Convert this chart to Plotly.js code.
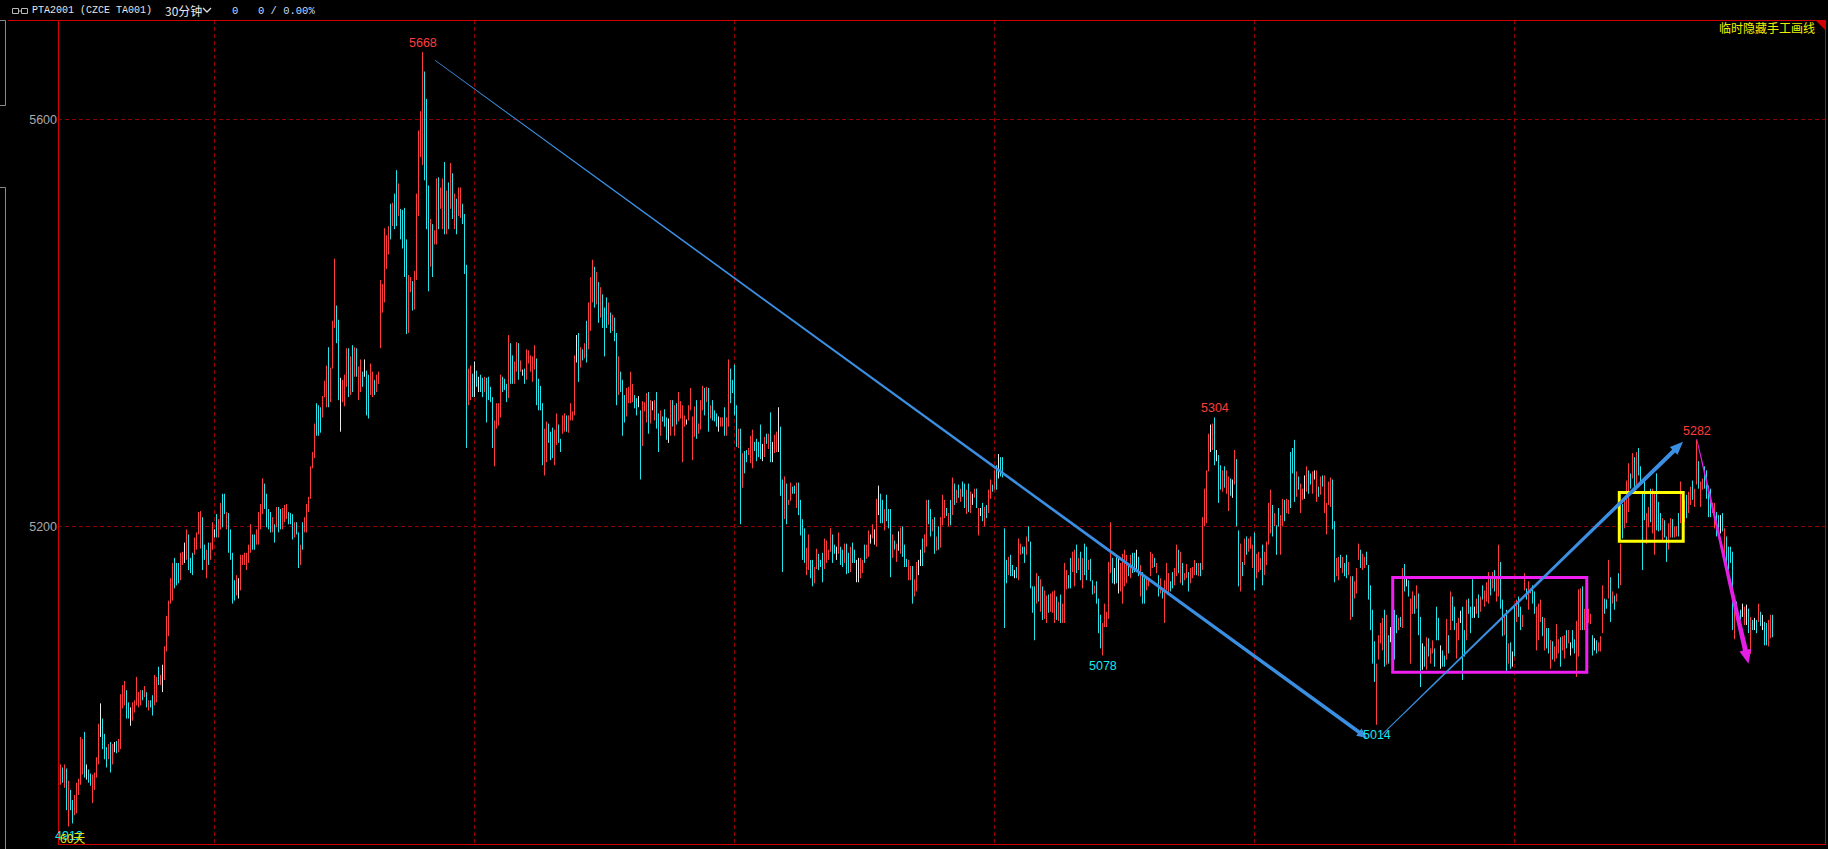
<!DOCTYPE html>
<html><head><meta charset="utf-8">
<script src="https://cdn.plot.ly/plotly-3.0.1.min.js"></script>
<style>html,body{margin:0;padding:0;background:#000;overflow:hidden}#chart{width:1828px;height:849px}</style>
</head><body><div id="chart"></div>
<script>
// ===== data: PTA2001 30-minute bars, 60 days =====
const high=[
4966,4963,4966,4962,4950,4941,4931,4936,4948,4952,
4993,4991,4998,4966,4961,4957,4956,4958,4973,5006,
5026,5011,4996,4983,4986,4988,4986,4988,4989,4991,
5035,5044,5048,5039,5027,5022,5027,5029,5052,5037,
5039,5039,5043,5037,5029,5029,5034,5054,5052,5062,
5054,5064,5082,5112,5127,5149,5164,5169,5164,5164,
5174,5175,5184,5197,5192,5169,5174,5189,5194,5214,
5215,5209,5182,5177,5184,5184,5204,5197,5212,5207,
5223,5232,5232,5214,5213,5197,5174,5147,5152,5149,
5172,5172,5174,5174,5182,5202,5192,5192,5197,5214,
5222,5247,5242,5232,5217,5214,5209,5202,5219,5219,
5217,5218,5221,5222,5214,5213,5212,5204,5204,5194,
5182,5204,5209,5222,5229,5259,5273,5301,5321,5319,
5317,5328,5343,5358,5376,5356,5402,5463,5417,5403,
5346,5344,5349,5375,5375,5367,5378,5376,5375,5357,
5364,5352,5364,5353,5349,5360,5352,5344,5349,5352,
5442,5438,5493,5486,5495,5517,5518,5527,5550,5537,
5512,5511,5513,5482,5447,5445,5441,5451,5527,5589,
5608,5666,5647,5620,5535,5502,5497,5491,5542,5543,
5533,5542,5558,5530,5538,5557,5547,5527,5522,5533,
5533,5517,5507,5457,5355,5358,5350,5362,5353,5347,
5349,5346,5347,5346,5347,5337,5327,5304,5321,5321,
5349,5347,5345,5340,5388,5380,5368,5362,5381,5380,
5363,5354,5355,5374,5373,5368,5367,5378,5365,5345,
5338,5321,5296,5303,5301,5293,5297,5295,5311,5300,
5286,5309,5311,5309,5309,5321,5313,5368,5388,5390,
5376,5374,5380,5402,5420,5445,5462,5455,5450,5440,
5435,5428,5415,5425,5420,5410,5408,5405,5390,5367,
5352,5344,5329,5336,5337,5352,5340,5329,5326,5328,
5314,5323,5322,5331,5332,5324,5323,5324,5332,5311,
5314,5308,5315,5307,5306,5324,5324,5319,5321,5332,
5323,5319,5309,5305,5319,5336,5308,5318,5324,5301,
5324,5338,5336,5337,5336,5319,5324,5314,5311,5308,
5307,5307,5317,5307,5364,5355,5344,5359,5319,5296,
5296,5272,5274,5275,5277,5289,5295,5283,5286,5283,
5300,5281,5288,5291,5291,5312,5283,5290,5293,5317,
5298,5246,5249,5242,5226,5243,5239,5240,5243,5243,
5226,5207,5198,5179,5192,5167,5167,5160,5178,5173,
5167,5174,5188,5186,5177,5198,5192,5182,5180,5194,
5180,5177,5183,5183,5174,5180,5184,5177,5167,5169,
5169,5167,5182,5182,5196,5192,5202,5197,5227,5240,
5232,5226,5217,5231,5217,5217,5192,5186,5183,5195,
5199,5200,5182,5168,5167,5161,5161,5148,5165,5167,
5177,5188,5192,5226,5226,5217,5207,5209,5190,5200,
5209,5231,5226,5218,5213,5226,5248,5242,5236,5241,
5237,5244,5242,5236,5242,5234,5232,5237,5237,5218,
5218,5223,5219,5221,5236,5246,5241,5255,5260,5271,
5268,5268,5198,5167,5170,5172,5162,5157,5160,5188,
5183,5180,5180,5190,5200,5185,5141,5141,5154,5151,
5148,5141,5137,5132,5133,5134,5136,5137,5131,5126,
5133,5124,5164,5157,5152,5169,5175,5177,5182,5169,
5175,5169,5183,5180,5167,5168,5147,5142,5146,5129,
5113,5105,5124,5116,5165,5204,5169,5159,5172,5170,
5164,5173,5177,5172,5164,5172,5174,5174,5177,5170,
5162,5155,5149,5151,5149,5175,5173,5169,5164,5152,
5149,5139,5147,5164,5154,5146,5155,5159,5182,5177,
5175,5164,5154,5163,5155,5159,5160,5167,5164,5164,
5164,5209,5237,5255,5291,5300,5301,5307,5275,5270,
5260,5255,5259,5255,5249,5247,5246,5275,5266,5196,
5183,5165,5188,5190,5188,5190,5182,5194,5173,5175,
5169,5182,5175,5185,5223,5236,5221,5213,5201,5218,
5211,5227,5226,5227,5226,5273,5277,5285,5254,5249,
5242,5237,5250,5259,5255,5252,5254,5255,5255,5239,
5249,5250,5250,5223,5244,5248,5246,5205,5169,5170,
5172,5170,5164,5172,5165,5151,5151,5146,5159,5183,
5177,5173,5170,5175,5162,5142,5118,5087,5065,5093,
5105,5110,5118,5113,5093,5101,5114,5118,5113,5110,
5111,5159,5163,5149,5147,5129,5136,5132,5142,5134,
5111,5085,5082,5091,5090,5080,5088,5080,5121,5110,
5083,5078,5073,5109,5093,5136,5131,5121,5105,5110,
5117,5121,5098,5128,5129,5121,5148,5121,5129,5133,
5131,5142,5137,5145,5155,5150,5155,5157,5149,5182,
5165,5128,5114,5118,5085,5086,5077,5121,5128,5131,
5121,5113,5154,5139,5146,5139,5142,5136,5121,5124,
5128,5111,5110,5100,5100,5088,5087,5082,5104,5089,
5091,5092,5093,5098,5098,5086,5098,5089,5107,5138,
5139,5141,5119,5121,5119,5114,5093,5090,5088,5086,
5092,5142,5129,5128,5167,5150,5136,5132,5134,5154,
5183,5222,5226,5245,5262,5252,5272,5268,5273,5277,
5259,5232,5247,5213,5219,5237,5237,5232,5252,5224,
5213,5208,5206,5190,5203,5208,5207,5200,5200,5213,
5244,5231,5226,5231,5234,5239,5245,5237,5285,5264,
5244,5247,5259,5255,5240,5237,5223,5223,5214,5211,
5211,5213,5198,5190,5180,5180,5175,5128,5126,5114,
5118,5124,5121,5123,5119,5111,5108,5110,5108,5124,
5116,5113,5106,5105,5108,5113,5113];
const low=[
4946,4948,4943,4921,4905,4921,4908,4916,4918,4936,
4946,4956,4953,4951,4948,4945,4928,4941,4953,4966,
4993,4981,4971,4963,4971,4958,4966,4978,4977,4978,
4981,5021,5024,5011,5011,5004,5009,5017,5024,5022,
5024,5029,5032,5022,5019,5022,5014,5024,5027,5044,
5044,5037,5049,5077,5092,5124,5127,5139,5142,5144,
5147,5162,5164,5167,5157,5154,5152,5172,5177,5192,
5178,5157,5167,5149,5162,5167,5177,5189,5189,5189,
5197,5199,5212,5197,5174,5167,5124,5127,5132,5129,
5137,5162,5162,5157,5164,5174,5177,5177,5182,5182,
5197,5212,5217,5199,5197,5194,5194,5184,5199,5194,
5197,5197,5204,5207,5202,5202,5187,5189,5192,5159,
5162,5177,5194,5194,5214,5227,5257,5267,5289,5289,
5292,5307,5327,5317,5317,5322,5355,5395,5380,5324,
5293,5322,5318,5337,5327,5329,5332,5347,5347,5324,
5332,5337,5347,5309,5306,5329,5327,5329,5332,5340,
5375,5410,5420,5453,5467,5482,5495,5492,5495,5505,
5482,5473,5445,5389,5390,5430,5412,5413,5442,5505,
5563,5555,5540,5492,5431,5455,5445,5477,5477,5492,
5512,5492,5487,5487,5492,5512,5502,5492,5487,5505,
5503,5497,5448,5277,5319,5324,5327,5327,5337,5332,
5332,5327,5332,5302,5324,5322,5277,5259,5296,5299,
5307,5332,5334,5322,5326,5340,5340,5340,5352,5344,
5352,5348,5340,5344,5360,5352,5342,5354,5319,5314,
5314,5260,5250,5263,5282,5265,5267,5260,5280,5282,
5273,5291,5293,5293,5292,5304,5304,5309,5361,5342,
5356,5363,5365,5361,5374,5392,5420,5415,5418,5400,
5405,5395,5367,5395,5398,5390,5392,5382,5319,5329,
5332,5289,5302,5308,5321,5321,5322,5316,5309,5317,
5246,5279,5313,5302,5291,5301,5314,5304,5296,5273,
5289,5303,5298,5285,5282,5289,5298,5289,5300,5303,
5306,5263,5298,5300,5304,5314,5265,5288,5286,5291,
5295,5314,5309,5322,5293,5306,5304,5303,5298,5293,
5298,5298,5289,5289,5298,5321,5331,5309,5278,5277,
5202,5238,5252,5263,5270,5262,5257,5274,5264,5268,
5266,5264,5268,5281,5276,5263,5263,5272,5273,5273,
5230,5155,5207,5202,5221,5225,5232,5232,5218,5211,
5191,5167,5164,5152,5157,5149,5141,5144,5158,5157,
5160,5145,5158,5164,5167,5175,5164,5173,5167,5173,
5162,5160,5164,5153,5154,5155,5164,5164,5145,5145,
5149,5154,5164,5168,5170,5183,5188,5182,5180,5211,
5203,5203,5196,5205,5198,5150,5169,5177,5165,5176,
5173,5170,5160,5160,5147,5147,5124,5131,5136,5152,
5161,5161,5174,5180,5202,5190,5195,5173,5176,5177,
5179,5201,5208,5210,5200,5201,5211,5221,5223,5228,
5224,5229,5218,5212,5214,5213,5221,5228,5218,5191,
5210,5205,5200,5208,5213,5227,5234,5236,5236,5247,
5249,5248,5100,5144,5152,5151,5151,5149,5149,5147,
5172,5173,5164,5172,5185,5139,5115,5088,5124,5126,
5116,5108,5109,5105,5115,5116,5115,5105,5108,5107,
5105,5105,5105,5138,5139,5139,5155,5141,5154,5157,
5147,5139,5152,5147,5157,5146,5133,5134,5124,5095,
5080,5073,5101,5101,5109,5154,5144,5143,5144,5134,
5136,5124,5141,5144,5151,5149,5154,5155,5155,5151,
5131,5124,5124,5137,5141,5151,5159,5160,5154,5131,
5134,5129,5105,5137,5133,5136,5139,5142,5151,5154,
5144,5142,5147,5149,5136,5144,5149,5152,5152,5151,
5151,5157,5200,5203,5254,5273,5275,5260,5264,5223,
5236,5234,5238,5232,5215,5230,5228,5241,5200,5141,
5136,5151,5162,5172,5175,5178,5159,5137,5149,5155,
5157,5142,5152,5162,5182,5193,5190,5200,5172,5200,
5172,5200,5205,5213,5212,5218,5252,5224,5229,5236,
5213,5226,5227,5234,5232,5241,5232,5246,5224,5229,
5231,5239,5213,5192,5221,5219,5197,5145,5151,5147,
5159,5154,5151,5149,5152,5108,5111,5129,5134,5167,
5159,5157,5159,5162,5128,5098,5065,5047,5005,5069,
5085,5078,5062,5064,5065,5086,5069,5069,5095,5098,
5101,5100,5136,5141,5131,5065,5114,5114,5119,5093,
5042,5059,5062,5059,5072,5065,5075,5062,5088,5088,
5060,5062,5062,5069,5075,5098,5107,5098,5070,5088,
5105,5049,5072,5088,5114,5095,5110,5110,5114,5110,
5116,5128,5121,5126,5124,5132,5139,5136,5126,5131,
5119,5092,5093,5057,5065,5060,5062,5072,5106,5111,
5098,5101,5137,5128,5118,5134,5124,5114,5078,5088,
5106,5092,5078,5080,5075,5060,5069,5067,5070,5075,
5062,5078,5070,5080,5085,5073,5080,5075,5052,5072,
5098,5098,5098,5101,5105,5104,5073,5078,5075,5077,
5077,5095,5114,5119,5129,5106,5124,5118,5126,5139,
5142,5188,5198,5203,5214,5237,5247,5239,5241,5250,
5244,5157,5206,5183,5199,5204,5193,5172,5196,5195,
5196,5185,5189,5165,5177,5189,5189,5189,5190,5190,
5203,5211,5204,5208,5213,5221,5226,5219,5241,5237,
5219,5236,5237,5227,5209,5209,5213,5198,5190,5190,
5193,5195,5170,5155,5157,5164,5098,5089,5114,5105,
5108,5111,5103,5103,5095,5075,5098,5098,5095,5106,
5102,5098,5083,5083,5082,5090,5091];
const open=[
4946,4963,4943,4962,4905,4941,4931,4916,4918,4936,
4946,4956,4998,4958,4961,4957,4928,4941,4953,4966,
5010,5011,4996,4983,4971,4988,4966,4983,4989,4978,
4981,5021,5024,5039,5027,5013,5009,5017,5024,5022,
5024,5039,5032,5037,5019,5029,5034,5024,5027,5062,
5044,5050,5049,5077,5092,5124,5127,5169,5164,5164,
5147,5162,5174,5167,5192,5169,5174,5172,5177,5192,
5178,5209,5182,5149,5184,5167,5177,5193,5212,5189,
5197,5232,5232,5197,5213,5197,5174,5147,5132,5139,
5137,5162,5162,5157,5164,5174,5192,5192,5182,5182,
5197,5212,5242,5232,5217,5214,5194,5202,5199,5219,
5217,5197,5204,5207,5214,5213,5212,5189,5204,5194,
5162,5204,5194,5194,5214,5227,5257,5267,5321,5319,
5317,5307,5327,5317,5376,5322,5355,5395,5417,5403,
5320,5322,5318,5337,5375,5329,5378,5347,5375,5324,
5332,5352,5355,5353,5349,5329,5327,5344,5332,5340,
5375,5410,5420,5453,5467,5517,5495,5527,5550,5505,
5512,5511,5513,5482,5390,5430,5441,5413,5442,5505,
5563,5555,5647,5620,5535,5455,5497,5477,5477,5543,
5512,5492,5558,5487,5538,5512,5547,5492,5522,5505,
5503,5517,5507,5457,5319,5324,5350,5345,5353,5340,
5349,5346,5332,5346,5347,5337,5327,5259,5296,5299,
5307,5347,5345,5340,5326,5380,5368,5340,5352,5380,
5352,5351,5355,5344,5360,5352,5342,5354,5365,5345,
5338,5321,5250,5263,5301,5293,5297,5260,5280,5300,
5286,5291,5293,5309,5292,5304,5304,5309,5375,5390,
5356,5374,5365,5402,5374,5392,5420,5455,5418,5440,
5405,5428,5415,5425,5398,5410,5392,5405,5390,5329,
5352,5344,5329,5308,5321,5321,5322,5329,5326,5322,
5314,5279,5313,5302,5332,5301,5318,5304,5332,5311,
5289,5308,5315,5307,5294,5289,5324,5289,5321,5303,
5306,5263,5298,5302,5304,5314,5265,5288,5324,5291,
5295,5314,5336,5322,5336,5306,5324,5314,5311,5300,
5298,5298,5317,5289,5298,5355,5344,5359,5319,5277,
5296,5238,5274,5275,5270,5262,5257,5283,5286,5283,
5300,5272,5268,5291,5276,5312,5273,5272,5273,5290,
5298,5246,5207,5242,5221,5225,5239,5240,5218,5243,
5226,5207,5198,5152,5157,5167,5167,5144,5158,5173,
5167,5174,5158,5164,5167,5175,5192,5182,5173,5173,
5180,5177,5164,5183,5174,5155,5184,5177,5156,5157,
5149,5154,5182,5168,5170,5187,5188,5190,5180,5225,
5232,5226,5196,5231,5217,5217,5169,5186,5165,5185,
5173,5200,5182,5168,5147,5147,5161,5131,5136,5160,
5169,5188,5174,5180,5226,5217,5195,5209,5176,5200,
5179,5201,5208,5218,5200,5226,5211,5242,5223,5241,
5224,5244,5242,5212,5242,5213,5226,5228,5237,5191,
5214,5223,5200,5221,5213,5227,5241,5236,5260,5259,
5268,5268,5198,5167,5152,5172,5162,5153,5160,5147,
5172,5180,5180,5172,5200,5185,5141,5141,5124,5151,
5116,5141,5109,5105,5133,5116,5115,5105,5131,5107,
5133,5105,5105,5138,5152,5169,5155,5141,5182,5157,
5175,5139,5183,5180,5157,5168,5147,5134,5146,5129,
5113,5073,5101,5101,5109,5154,5169,5151,5172,5152,
5136,5124,5141,5144,5164,5149,5174,5174,5166,5170,
5131,5155,5149,5137,5141,5151,5159,5169,5154,5152,
5134,5139,5105,5137,5133,5146,5155,5142,5151,5177,
5144,5164,5147,5149,5155,5144,5149,5152,5164,5151,
5164,5157,5200,5203,5254,5286,5275,5307,5270,5270,
5260,5234,5259,5232,5215,5247,5237,5241,5266,5196,
5136,5165,5162,5190,5175,5178,5159,5194,5149,5155,
5157,5182,5152,5162,5182,5193,5221,5200,5201,5218,
5172,5200,5226,5213,5212,5273,5277,5285,5229,5249,
5213,5226,5238,5234,5255,5252,5232,5250,5224,5239,
5231,5250,5213,5192,5221,5219,5246,5205,5151,5147,
5172,5154,5164,5172,5152,5108,5151,5129,5134,5167,
5177,5157,5159,5175,5162,5142,5118,5087,5005,5069,
5085,5078,5118,5064,5093,5094,5069,5118,5113,5098,
5111,5100,5163,5145,5147,5065,5114,5132,5119,5134,
5111,5072,5082,5059,5090,5065,5075,5080,5121,5110,
5072,5078,5073,5069,5093,5098,5131,5121,5070,5088,
5111,5121,5098,5088,5129,5121,5148,5116,5114,5133,
5116,5142,5121,5126,5124,5150,5139,5157,5126,5131,
5165,5128,5093,5118,5065,5086,5070,5121,5106,5131,
5121,5101,5137,5139,5118,5134,5142,5136,5078,5088,
5106,5111,5078,5100,5100,5060,5087,5067,5070,5075,
5091,5078,5070,5098,5085,5080,5098,5089,5052,5072,
5098,5141,5098,5101,5105,5104,5093,5084,5088,5077,
5077,5095,5129,5128,5129,5150,5124,5132,5126,5154,
5142,5222,5198,5203,5214,5252,5247,5268,5241,5277,
5259,5232,5247,5183,5199,5237,5193,5172,5252,5224,
5213,5185,5206,5190,5177,5189,5207,5189,5190,5213,
5203,5211,5204,5231,5213,5221,5245,5219,5241,5264,
5219,5236,5259,5255,5240,5237,5213,5198,5214,5211,
5202,5213,5170,5190,5180,5180,5175,5089,5126,5110,
5118,5118,5103,5113,5119,5075,5108,5104,5108,5106,
5116,5106,5106,5105,5082,5090,5113];
const close=[
4966,4948,4966,4921,4950,4921,4908,4936,4948,4952,
4993,4991,4953,4958,4948,4945,4956,4958,4973,5006,
5010,4981,4971,4963,4986,4958,4986,4983,4977,4991,
5035,5044,5048,5011,5011,5013,5027,5029,5052,5037,
5039,5029,5043,5022,5029,5022,5014,5054,5052,5044,
5054,5050,5082,5112,5127,5149,5164,5139,5142,5144,
5174,5175,5174,5197,5157,5154,5152,5189,5194,5214,
5215,5157,5167,5177,5162,5184,5204,5193,5189,5207,
5223,5199,5212,5214,5174,5167,5124,5127,5152,5139,
5172,5172,5174,5174,5182,5202,5177,5177,5197,5214,
5222,5247,5217,5199,5197,5194,5209,5184,5219,5194,
5197,5218,5221,5222,5202,5202,5187,5204,5192,5159,
5182,5177,5209,5222,5229,5259,5273,5301,5289,5289,
5292,5328,5343,5358,5317,5356,5402,5463,5380,5324,
5320,5344,5349,5375,5327,5367,5332,5376,5347,5357,
5364,5337,5355,5309,5306,5360,5352,5329,5349,5352,
5442,5438,5493,5486,5495,5482,5518,5492,5495,5537,
5482,5473,5445,5389,5447,5445,5412,5451,5527,5589,
5608,5666,5540,5492,5431,5502,5445,5491,5542,5492,
5533,5542,5487,5530,5492,5557,5502,5527,5487,5533,
5533,5497,5448,5277,5355,5358,5327,5345,5337,5340,
5332,5327,5347,5302,5324,5322,5277,5304,5321,5321,
5349,5332,5334,5322,5388,5340,5340,5362,5381,5344,
5363,5351,5340,5374,5373,5368,5367,5378,5319,5314,
5314,5260,5296,5303,5282,5265,5267,5295,5311,5282,
5273,5309,5311,5293,5309,5321,5313,5368,5375,5342,
5376,5363,5380,5361,5420,5445,5462,5415,5450,5400,
5435,5395,5367,5395,5420,5390,5408,5382,5319,5367,
5332,5289,5302,5336,5337,5352,5340,5316,5309,5322,
5246,5323,5322,5331,5291,5324,5318,5324,5296,5273,
5314,5303,5298,5285,5294,5324,5298,5319,5300,5332,
5323,5319,5309,5302,5319,5336,5308,5318,5286,5301,
5324,5338,5309,5337,5293,5319,5304,5303,5298,5300,
5307,5307,5289,5307,5364,5321,5331,5309,5278,5296,
5202,5272,5252,5263,5277,5289,5295,5274,5264,5268,
5266,5272,5288,5281,5291,5263,5273,5290,5293,5290,
5230,5155,5249,5202,5226,5243,5232,5232,5243,5211,
5191,5167,5164,5179,5192,5149,5141,5160,5178,5157,
5160,5145,5188,5186,5177,5198,5164,5173,5173,5194,
5162,5160,5183,5153,5154,5180,5164,5164,5156,5157,
5169,5167,5164,5182,5196,5187,5202,5190,5227,5225,
5203,5203,5217,5205,5198,5150,5192,5177,5183,5185,
5199,5170,5160,5160,5167,5161,5124,5148,5165,5160,
5169,5161,5192,5226,5202,5190,5207,5173,5190,5177,
5209,5231,5226,5210,5213,5201,5248,5221,5236,5228,
5237,5229,5218,5236,5214,5234,5226,5237,5218,5218,
5214,5205,5219,5208,5236,5246,5234,5255,5236,5259,
5249,5248,5100,5144,5170,5151,5151,5153,5149,5188,
5183,5173,5164,5190,5185,5139,5115,5088,5154,5126,
5148,5108,5137,5132,5115,5134,5136,5137,5108,5126,
5105,5124,5164,5157,5139,5139,5175,5177,5154,5169,
5147,5169,5152,5147,5167,5146,5133,5142,5124,5095,
5080,5105,5124,5116,5165,5204,5144,5151,5144,5152,
5164,5173,5177,5172,5151,5172,5154,5155,5166,5151,
5162,5124,5124,5151,5149,5175,5173,5160,5164,5131,
5149,5129,5147,5164,5154,5136,5139,5159,5182,5154,
5175,5142,5154,5163,5136,5159,5160,5167,5152,5164,
5151,5209,5237,5255,5291,5286,5301,5260,5270,5223,
5236,5255,5238,5255,5249,5230,5237,5275,5200,5141,
5183,5151,5188,5172,5188,5190,5182,5137,5173,5175,
5169,5142,5175,5185,5223,5236,5190,5213,5172,5200,
5211,5227,5205,5227,5226,5218,5252,5224,5254,5236,
5242,5237,5238,5259,5232,5241,5254,5250,5255,5229,
5249,5239,5250,5223,5244,5248,5197,5145,5169,5170,
5159,5170,5151,5149,5165,5151,5111,5146,5159,5183,
5159,5173,5170,5162,5128,5098,5065,5047,5065,5093,
5105,5110,5062,5113,5065,5094,5114,5069,5095,5110,
5101,5159,5136,5145,5131,5129,5136,5114,5142,5093,
5042,5072,5062,5091,5072,5080,5088,5062,5088,5088,
5072,5062,5062,5109,5075,5136,5107,5098,5105,5110,
5111,5049,5072,5128,5114,5095,5110,5116,5129,5110,
5131,5128,5137,5145,5155,5132,5155,5136,5149,5182,
5119,5092,5114,5057,5085,5060,5070,5072,5128,5111,
5098,5113,5154,5128,5146,5139,5124,5114,5121,5124,
5128,5092,5110,5080,5075,5088,5069,5082,5104,5089,
5062,5092,5093,5080,5098,5080,5080,5075,5107,5138,
5139,5098,5119,5121,5119,5114,5073,5084,5075,5086,
5092,5142,5114,5119,5167,5106,5136,5118,5134,5139,
5183,5188,5226,5245,5262,5237,5272,5239,5273,5250,
5244,5157,5206,5213,5219,5204,5237,5232,5196,5195,
5196,5208,5189,5165,5203,5208,5189,5200,5200,5190,
5244,5231,5226,5208,5234,5239,5226,5237,5285,5237,
5244,5247,5237,5227,5209,5209,5223,5223,5190,5190,
5202,5195,5198,5155,5157,5164,5098,5128,5114,5110,
5108,5118,5121,5113,5095,5111,5098,5104,5095,5124,
5102,5106,5083,5083,5108,5113,5091];

// y ticks and day-separator gridlines (bar index)
const yTickVals=[5200,5600];
const yTickText=['5200','5600'];
const gridBars=[77,207,337,467,597,727];

// marked extremes (bar index, printed label)
const highMarkBars=[181,577,818];
const highMarkText=['5668','5304','5282'];
const lowMarkBars=[4,521,658];
const lowMarkText=['4912','5078','5014'];

// hand-drawn objects (bar index, price)
const arrows=[
 {from:[187.25,5658],to:[653.25,4992],w0:0.8,w1:3.6,headLen:10,headW:9,color:'#3b8fe2'},
 {from:[660.6,4995],to:[811.25,5283],w0:0.8,w1:4.2,headLen:13,headW:11,color:'#3b8fe2'},
 {from:[818.1,5286],to:[844,5065],w0:0.8,w1:5,headLen:14,headW:12,color:'#e41ee4'}
];
const boxes=[
 {x0:666.1,x1:763.15,y0:5056.6,y1:5149.7,color:'#f01ef0'},
 {x0:779.4,x1:811.35,y0:5185.3,y1:5233.2,color:'#ffff00'}
];

// ===== geometry of the plot frame =====
const W=1828,H=849,ML=58,MR=3,MT=20,MB=4;
const PW=W-ML-MR, PH=H-MT-MB;
const X0=-1.25, X1=882.25, Y0=4886.8, Y1=5697.6;
const pxX=x=>ML+(x-X0)/(X1-X0)*PW, pxY=y=>MT+(Y1-y)/(Y1-Y0)*PH;
const dX=p=>X0+(p-ML)/PW*(X1-X0), dY=p=>Y1-(p-MT)/PH*(Y1-Y0);
const paperX=p=>(p-ML)/PW, paperY=p=>(H-MB-p)/PH;

// ===== bar traces =====
const groups={up:{x:[],y:[]},dn:{x:[],y:[]},fl:{x:[],y:[]}};
for(let i=0;i<high.length;i++){
  const g=close[i]>open[i]?groups.up:(close[i]<open[i]?groups.dn:groups.fl);
  g.x.push(i,i,null); g.y.push(low[i],high[i],null);
}
const colors={up:'#ff3b3b',dn:'#22e4ec',fl:'#e8e8e8'};
const traces=Object.keys(groups).map(k=>({type:'scatter',mode:'lines',x:groups[k].x,y:groups[k].y,
  line:{color:colors[k],width:1},hoverinfo:'skip',connectgaps:false}));

// ===== shapes =====
function arrowPath(a){
  const x0=pxX(a.from[0]),y0=pxY(a.from[1]),x1=pxX(a.to[0]),y1=pxY(a.to[1]);
  const dx=x1-x0,dy=y1-y0,len=Math.hypot(dx,dy),ux=dx/len,uy=dy/len,nx=-uy,ny=ux;
  const bx=x1-ux*a.headLen,by=y1-uy*a.headLen;
  const pts=[[x0+nx*a.w0/2,y0+ny*a.w0/2],[bx+nx*a.w1/2,by+ny*a.w1/2],[bx+nx*a.headW/2,by+ny*a.headW/2],[x1,y1],
    [bx-nx*a.headW/2,by-ny*a.headW/2],[bx-nx*a.w1/2,by-ny*a.w1/2],[x0-nx*a.w0/2,y0-ny*a.w0/2]];
  return 'M'+pts.map(p=>dX(p[0]).toFixed(4)+','+dY(p[1]).toFixed(3)).join(' L')+' Z';
}
const RED='#d20000';
const pl=(x0,y0,x1,y1,color,w)=>({type:'line',xref:'paper',yref:'paper',x0:paperX(x0),y0:paperY(y0),x1:paperX(x1),y1:paperY(y1),line:{color:color,width:w}});
const pathPx=(pts,close)=>'M'+pts.map(p=>paperX(p[0]).toFixed(5)+','+paperY(p[1]).toFixed(5)).join(' L')+(close?' Z':'');
const shapes=[
  pl(8,20.5,1825.5,20.5,RED,1),
  pl(58.5,20,58.5,845,RED,1),
  pl(58,844.5,1825.5,844.5,RED,1),
  pl(1825.5,20,1825.5,845,RED,1),
  {type:'path',xref:'paper',yref:'paper',path:pathPx([[1816,20.5],[1825.5,20.5],[1825.5,30]],true),fillcolor:RED,line:{color:RED,width:0.5}},
  {type:'path',xref:'paper',yref:'paper',path:pathPx([[0,20.5],[5.5,20.5],[5.5,105.5],[0,105.5]],false),line:{color:'#8a8a8a',width:1}},
  {type:'path',xref:'paper',yref:'paper',path:pathPx([[0,187.5],[5.5,187.5],[5.5,849]],false),line:{color:'#8a8a8a',width:1}},
  // header icon and chevron
  {type:'rect',xref:'paper',yref:'paper',x0:paperX(12.5),x1:paperX(18.5),y0:paperY(8.5),y1:paperY(13.5),line:{color:'#b8b8b8',width:1}},
  {type:'rect',xref:'paper',yref:'paper',x0:paperX(21.5),x1:paperX(27.5),y0:paperY(8.5),y1:paperY(13.5),line:{color:'#b8b8b8',width:1}},
  pl(18.5,11,21.5,11,'#b8b8b8',1),
  {type:'path',xref:'paper',yref:'paper',path:pathPx([[203,8],[207,12],[211,8]],false),line:{color:'#e0e0e0',width:1.3}}
];
boxes.forEach(b=>shapes.push({type:'rect',xref:'x',yref:'y',x0:b.x0,x1:b.x1,y0:b.y0,y1:b.y1,line:{color:b.color,width:3}}));
arrows.forEach(a=>shapes.push({type:'path',xref:'x',yref:'y',path:arrowPath(a),fillcolor:a.color,line:{color:a.color,width:0}}));

// ===== annotations =====
const LBL={family:'Liberation Sans, Arial, sans-serif',size:12.5};
const ann=[];
highMarkBars.forEach((b,k)=>ann.push({xref:'x',yref:'y',x:b,y:high[b],text:highMarkText[k],showarrow:false,yanchor:'bottom',xanchor:'center',yshift:0,font:Object.assign({color:'#ff3c3c'},LBL)}));
lowMarkBars.forEach((b,k)=>ann.push({xref:'x',yref:'y',x:b,y:low[b],text:lowMarkText[k],showarrow:false,yanchor:'top',xanchor:'center',yshift:-1,font:Object.assign({color:'#18e6ee'},LBL)}));
const txt=(px,py,text,color,font,size,anchor)=>({xref:'paper',yref:'paper',x:paperX(px),y:paperY(py),text:text,showarrow:false,xanchor:anchor||'left',yanchor:'middle',font:{family:font,size:size,color:color},borderpad:0});
const MONO='Liberation Mono, DejaVu Sans Mono, monospace', CJK='Noto Sans CJK SC, sans-serif';
ann.push(txt(31,11,'PTA2001 (CZCE TA001)','#e6e6e6',MONO,10));
ann.push(txt(164,11,'30分钟','#e6e6e6',CJK,12));
ann.push(txt(231,11,'0','#c8dcff',MONO,10.5));
ann.push(txt(257,11,'0 / 0.00%','#c8dcff',MONO,10.5));
ann.push(txt(1816,28,'临时隐藏手工画线','#f0f000',CJK,12,'right'));
ann.push(txt(59,837,'60天','#e6e600',CJK,12));

const layout={
  width:W,height:H,margin:{l:ML,r:MR,t:MT,b:MB,pad:0},
  paper_bgcolor:'#000',plot_bgcolor:'#000',showlegend:false,
  font:{family:'Liberation Sans, Arial, sans-serif',color:'#aaa'},
  xaxis:{range:[X0,X1],tickmode:'array',tickvals:gridBars,showticklabels:false,ticks:'',
    showgrid:true,gridcolor:'#900000',griddash:'4px,3px',gridwidth:1,zeroline:false,showline:false,fixedrange:true},
  yaxis:{range:[Y0,Y1],tickmode:'array',tickvals:yTickVals,ticktext:yTickText,ticks:'',
    tickfont:{family:'Liberation Sans, Arial, sans-serif',size:12.5,color:'#a8a8a8'},
    showgrid:true,gridcolor:'#900000',griddash:'4px,3px',gridwidth:1,zeroline:false,showline:false,fixedrange:true},
  shapes:shapes,annotations:ann
};
Plotly.newPlot('chart',traces,layout,{displayModeBar:false,staticPlot:true});
</script>
</body></html>
